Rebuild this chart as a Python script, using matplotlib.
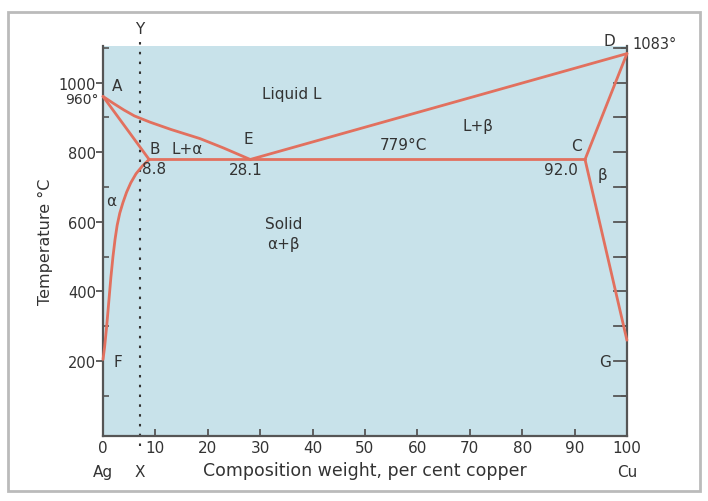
import matplotlib.pyplot as plt
from matplotlib.patches import Rectangle

plt.rcParams['font.family'] = ['DejaVu Sans']

# Silver-copper equilibrium diagram
liq_ae_x = [0, 2, 4, 6, 9, 13, 18.5, 23, 28.1]
liq_ae_t = [960, 940, 921, 904, 886, 865, 839, 812, 779]
liq_ed_x = [28.1, 100]
liq_ed_t = [779, 1083]
sol_ab_x = [0, 8.8]
sol_ab_t = [960, 779]
sol_dc_x = [100, 92.0]
sol_dc_t = [1083, 779]
eutectic_x = [8.8, 92.0]
eutectic_t = [779, 779]
solvus_bf_x = [8.8, 7.5, 6.3, 5.3, 4.5, 3.8, 3.2, 2.7, 2.3, 1.9, 1.5, 1.1, 0.7, 0.3, 0]
solvus_bf_t = [779, 760, 738, 712, 685, 655, 625, 590, 550, 500, 440, 370, 300, 240, 205]
solvus_cg_x = [92.0, 100]
solvus_cg_t = [779, 260]
alloy_x = 7

x_ticks = list(range(0, 101, 10))
y_labels = [200, 400, 600, 800, 1000]

RED = '#e2705e'
BLUE = '#c8e2ea'
INK = '#333333'
AXIS = '#555555'
FS = 11

fig = plt.figure(figsize=(7.08, 5.02), dpi=100)
fig.patches.append(Rectangle((0.012, 0.02), 0.976, 0.955, transform=fig.transFigure,
                             fill=False, edgecolor='#bbbbbb', linewidth=2))
ax = fig.add_axes([0.1455, 0.1295, 0.740, 0.777])
ax.set_facecolor(BLUE)
ax.set_xlim(0, 100)
ax.set_ylim(-15, 1105)

for xs, ts in [(liq_ae_x, liq_ae_t), (liq_ed_x, liq_ed_t), (sol_ab_x, sol_ab_t),
               (sol_dc_x, sol_dc_t), (eutectic_x, eutectic_t),
               (solvus_bf_x, solvus_bf_t), (solvus_cg_x, solvus_cg_t)]:
    ax.plot(xs, ts, color=RED, linewidth=2, solid_capstyle='round',
            solid_joinstyle='round', clip_on=False, zorder=3)

# alloy composition line X-Y
ax.plot([alloy_x, alloy_x], [-45, 1130], color=INK, linewidth=1.5,
        linestyle=(0, (1.2, 3.5)), clip_on=False)
ax.text(alloy_x, 1155, 'Y', ha='center', va='center', fontsize=FS, color=INK)

# spines and ticks
ax.spines['top'].set_visible(False)
for s in ['left', 'right', 'bottom']:
    ax.spines[s].set_color(AXIS)
    ax.spines[s].set_linewidth(1.6)

ax.set_xticks(x_ticks)
ax.set_xticklabels([str(v) for v in x_ticks])
ax.tick_params(axis='x', direction='in', length=5, width=1.3, color=AXIS,
               labelsize=11, labelcolor=INK, pad=3)
ax.set_yticks(y_labels)
ax.set_yticklabels([str(v) for v in y_labels])
ax.tick_params(axis='y', direction='out', length=5, width=1.3, color=AXIS,
               labelsize=10.5, labelcolor=INK, pad=0)
ax.set_yticks(range(100, 1101, 100), minor=True)
ax.tick_params(axis='y', which='minor', direction='in', length=4, width=1.2,
               color=AXIS, right=True, left=True)
ax.tick_params(axis='y', which='major', right=False)
# right side ticks at every 100 pointing inward
for t in range(100, 1101, 100):
    ax.plot([97.6, 100], [t, t], color=AXIS, linewidth=1.3, clip_on=False)

ax.set_ylabel('Temperature °C', fontsize=11.5, color=INK, labelpad=4)
ax.set_xlabel('Composition weight, per cent copper', fontsize=12.5, color=INK,
              labelpad=4)

tk = dict(fontsize=FS, color=INK, ha='center', va='center')
ax.text(0, -116, 'Ag', **tk)
ax.text(alloy_x, -116, 'X', **tk)
ax.text(100, -116, 'Cu', **tk)
ax.text(-0.8, 952, '960°', fontsize=10, color=INK, ha='right', va='center')
ax.text(101.0, 1112, '1083°', fontsize=10.5, color=INK, ha='left', va='center')

lab = [
    (2.7, 990, 'A'), (9.8, 810, 'B'), (16.0, 810, 'L+α'), (9.8, 753, '8.8'),
    (27.7, 839, 'E'), (27.3, 750, '28.1'), (36.0, 968, 'Liquid L'),
    (57.3, 822, '779°C'), (71.6, 876, 'L+β'), (90.3, 819, 'C'),
    (87.4, 750, '92.0'), (95.4, 736, 'β'), (96.6, 1121, 'D'),
    (34.4, 595, 'Solid'), (34.4, 537, 'α+β'), (2.9, 200, 'F'),
    (95.9, 200, 'G'), (1.6, 660, 'α'),
]
for x, t, s in lab:
    ax.text(x, t, s, clip_on=False, **tk)

fig.savefig('out.png', dpi=100)
